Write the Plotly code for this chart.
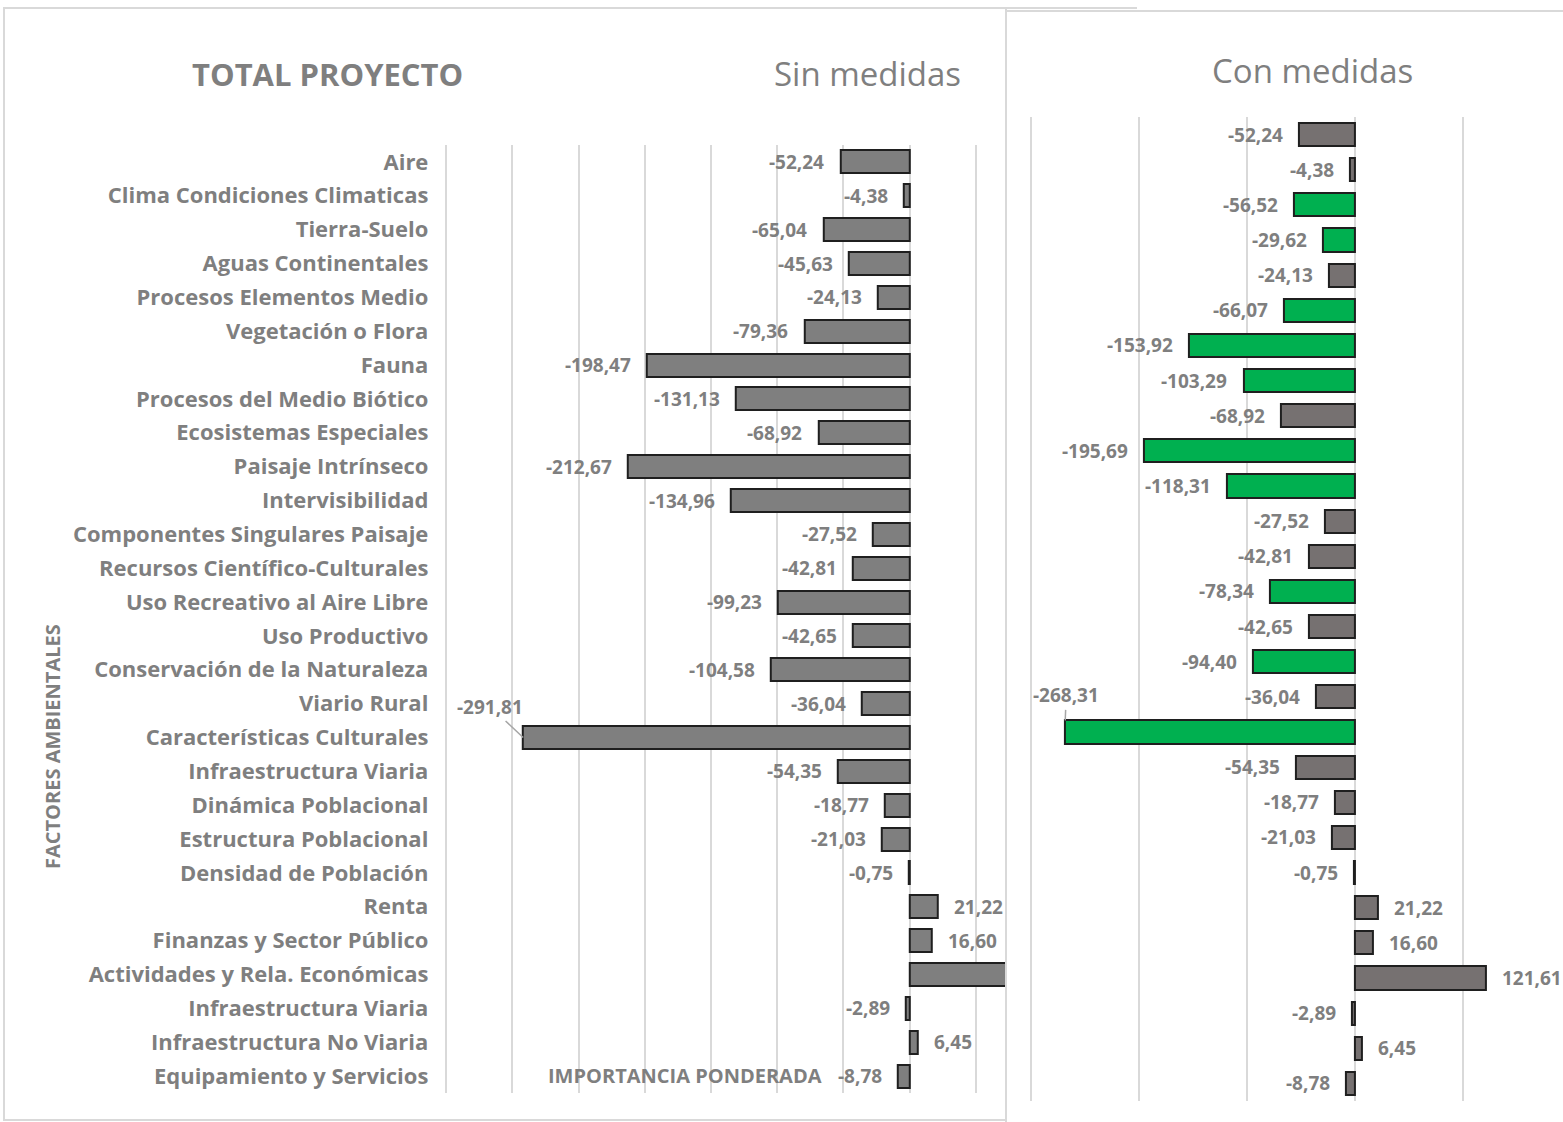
import plotly.graph_objects as go

# Environmental factors (rows, top to bottom)
factores = [
    "Aire", "Clima Condiciones Climaticas", "Tierra-Suelo", "Aguas Continentales",
    "Procesos Elementos Medio", "Vegetación o Flora", "Fauna",
    "Procesos del Medio Biótico", "Ecosistemas Especiales", "Paisaje Intrínseco",
    "Intervisibilidad", "Componentes Singulares Paisaje",
    "Recursos Científico-Culturales", "Uso Recreativo al Aire Libre",
    "Uso Productivo", "Conservación de la Naturaleza", "Viario Rural",
    "Características Culturales", "Infraestructura Viaria",
    "Dinámica Poblacional", "Estructura Poblacional", "Densidad de Población",
    "Renta", "Finanzas y Sector Público", "Actividades y Rela. Económicas",
    "Infraestructura Viaria", "Infraestructura No Viaria",
    "Equipamiento y Servicios",
]

# Weighted importance without corrective measures
sin_medidas = [
    -52.24, -4.38, -65.04, -45.63, -24.13, -79.36, -198.47, -131.13, -68.92,
    -212.67, -134.96, -27.52, -42.81, -99.23, -42.65, -104.58, -36.04,
    -291.81, -54.35, -18.77, -21.03, -0.75, 21.22, 16.60, 121.61, -2.89,
    6.45, -8.78,
]

# Weighted importance with corrective measures
con_medidas = [
    -52.24, -4.38, -56.52, -29.62, -24.13, -66.07, -153.92, -103.29, -68.92,
    -195.69, -118.31, -27.52, -42.81, -78.34, -42.65, -94.40, -36.04,
    -268.31, -54.35, -18.77, -21.03, -0.75, 21.22, 16.60, 121.61, -2.89,
    6.45, -8.78,
]

W, H = 1563, 1122
FONT = "Open Sans"
GREY_TXT = "#7f7f7f"
GRID = "#d9d9d9"


def px_x(p):
    return p / W


def px_y(p):
    return 1 - p / H


def fmt(v):
    return f"{v:.2f}".replace(".", ",")


rows = list(range(len(factores)))

# Axis ranges follow the pixel scale of each panel; the lower bound is
# nudged past the first gridline so that line is still drawn.
x1_range = [-351, 72.1]
x2_range = [-301, 192.6]

fig = go.Figure()

fig.add_trace(go.Bar(
    x=sin_medidas, y=rows, orientation="h", width=0.68,
    marker=dict(color="#7f7f7f", line=dict(color="#1f1f1f", width=2)),
    xaxis="x", yaxis="y", showlegend=False, hoverinfo="skip",
))

colores_con = ["#00b050" if c != s else "#767171"
               for c, s in zip(con_medidas, sin_medidas)]
fig.add_trace(go.Bar(
    x=con_medidas, y=rows, orientation="h", width=0.66,
    marker=dict(color=colores_con, line=dict(color="#1f1f1f", width=2)),
    xaxis="x2", yaxis="y2", showlegend=False, hoverinfo="skip",
))

annotations = []
label_font = dict(family=FONT, size=19, color=GREY_TXT, weight="bold")


def add_labels(values, xref, yref, xr, special):
    for i, v in enumerate(values):
        if not (xr[0] <= v <= xr[1]):
            continue
        if i == special["row"]:
            annotations.append(dict(
                x=v, y=i + special["dy"], xref=xref, yref=yref,
                text=fmt(v), font=label_font, showarrow=True,
                arrowhead=0, arrowwidth=1.5, arrowcolor="#a6a6a6",
                ax=special["ax"], ay=special["ay"], standoff=0,
            ))
            continue
        annotations.append(dict(
            x=v, y=i, xref=xref, yref=yref, text=fmt(v), font=label_font,
            showarrow=False,
            xanchor="right" if v < 0 else "left",
            xshift=-14 if v < 0 else 14,
        ))


add_labels(sin_medidas, "x", "y", x1_range,
           dict(row=17, dy=0.0, ax=-33, ay=-31))
add_labels(con_medidas, "x2", "y2", x2_range,
           dict(row=17, dy=-0.33, ax=1, ay=-25))


def caption(x, y, text, size, bold=True, angle=0):
    return dict(x=px_x(x), y=px_y(y), xref="paper", yref="paper",
                xanchor="center", yanchor="middle", text=text,
                showarrow=False, textangle=angle,
                font=dict(family=FONT, size=size, color=GREY_TXT,
                          weight="bold" if bold else "normal"))


# Titles and axis captions
annotations += [
    caption(327, 74, "TOTAL PROYECTO", 31),
    caption(867, 74, "Sin medidas", 33, bold=False),
    caption(1312, 71, "Con medidas", 33, bold=False),
    caption(52, 747, "FACTORES AMBIENTALES", 20, angle=-90),
    caption(685, 1075, "IMPORTANCIA PONDERADA", 20),
]

shapes = [
    # outer frame of the left chart
    dict(type="rect", xref="paper", yref="paper", layer="below",
         x0=px_x(4), x1=px_x(1006), y0=px_y(1120), y1=px_y(8),
         line=dict(color=GRID, width=2), fillcolor="white"),
    dict(type="line", xref="paper", yref="paper", layer="below",
         x0=px_x(1006), x1=px_x(1137), y0=px_y(8), y1=px_y(8),
         line=dict(color=GRID, width=2)),
    # frame of the right chart
    dict(type="rect", xref="paper", yref="paper", layer="below",
         x0=px_x(1006), x1=px_x(1570), y0=px_y(1130), y1=px_y(11),
         line=dict(color=GRID, width=2), fillcolor="white"),
]

x1_px0 = 909.5 - 351 * (66.2 / 50)
x2_px0 = 1355 - 301 * 1.08

fig.update_layout(
    width=W, height=H, margin=dict(l=0, r=0, t=0, b=0),
    paper_bgcolor="white", plot_bgcolor="rgba(0,0,0,0)",
    bargap=0, font=dict(family=FONT, color=GREY_TXT),
    annotations=annotations, shapes=shapes,
    xaxis=dict(domain=[px_x(x1_px0), px_x(1005)], range=x1_range,
               tick0=0, dtick=50, showticklabels=False, showgrid=True,
               gridcolor=GRID, gridwidth=1.5, zeroline=False,
               showline=False, fixedrange=True),
    yaxis=dict(domain=[px_y(1093), px_y(145)], range=[27.5, -0.5],
               tickvals=rows, ticktext=factores, showgrid=False,
               zeroline=False, showline=False, ticks="outside",
               ticklen=11, tickcolor="rgba(0,0,0,0)",
               tickfont=dict(family=FONT, size=22, color=GREY_TXT,
                             weight="bold"),
               fixedrange=True),
    xaxis2=dict(domain=[px_x(x2_px0), 1.0], range=x2_range, anchor="y2",
                tick0=0, dtick=100, showticklabels=False, showgrid=True,
                gridcolor=GRID, gridwidth=1.5, zeroline=False,
                showline=False, fixedrange=True),
    yaxis2=dict(domain=[px_y(1101), px_y(117)], range=[27.5, -0.5],
                anchor="x2", showticklabels=False, showgrid=False,
                zeroline=False, showline=False, fixedrange=True),
)

fig.write_html("out.html")
